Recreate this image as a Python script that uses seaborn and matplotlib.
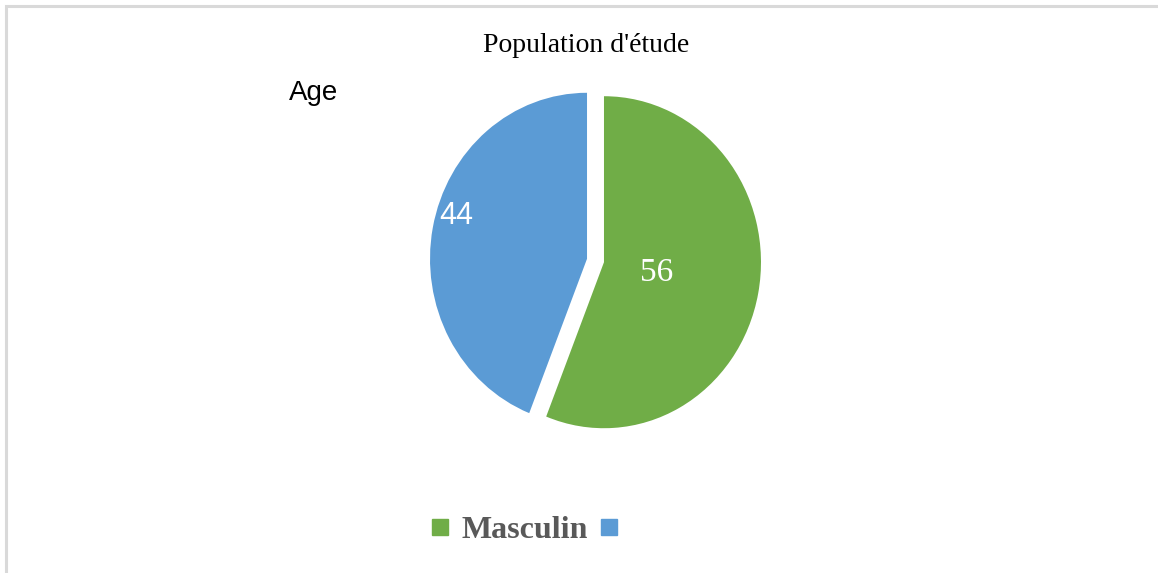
import matplotlib
matplotlib.use("Agg")
import matplotlib.pyplot as plt
import seaborn as sns
from matplotlib.lines import Line2D
from matplotlib.patches import Rectangle

# ---- data ----
categories = ["Masculin", ""]
values = [56, 44]
colors = ["#70AD47", "#5B9BD5"]
title = "Population d'étude"
side_label = "Age"

sns.set_theme(style="white")
plt.rcParams["font.family"] = ["Liberation Serif", "DejaVu Serif"]

W, H = 1158, 573
fig = plt.figure(figsize=(W / 100, H / 100), dpi=100)
fig.patch.set_facecolor("white")

# light gray frame (top and left edges visible)
fig.patches.append(Rectangle((6 / W, -0.05), 1.2, (H - 6) / H + 0.05,
                             transform=fig.transFigure, fill=False,
                             edgecolor="#D9D9D9", linewidth=2.2))

# pie axes placement (pixels)
cx, cy = 595.5, 260.5
rx, ry = 157, 166
lim = 1.25
ax = fig.add_axes([(cx - lim * rx) / W, (H - cy - lim * ry) / H,
                   2 * lim * rx / W, 2 * lim * ry / H])
wedges, texts, autotexts = ax.pie(
    values, colors=colors, startangle=90, counterclock=False,
    explode=[0.055, 0.055], autopct=lambda p: f"{p:.0f}", pctdistance=0.34,
    wedgeprops=dict(linewidth=0),
    textprops=dict(color="white", fontsize=24, family="Liberation Serif"))
ax.set_aspect("auto")
ax.set_xlim(-lim, lim)
ax.set_ylim(-lim, lim)
# blue value label sits near the left edge of its slice
autotexts[1].set_position((-0.89, 0.27))
autotexts[1].set_family("Liberation Sans")
autotexts[1].set_fontsize(22)

fig.text(585.8 / W, 1 - 51.7 / H, title, ha="center", va="baseline",
         fontsize=20, family="Liberation Serif", color="#000000")
fig.text(289 / W, 1 - 100 / H, side_label, ha="left", va="baseline",
         fontsize=20, family="Liberation Sans", color="#000000")

handles = [Line2D([], [], marker="s", ls="", color=c, markersize=11)
           for c in colors]
fig.legend(handles, categories, ncol=2, loc="center",
           bbox_to_anchor=(531.5 / W, 1 - 530 / H), frameon=False,
           prop=dict(family="Liberation Serif", weight="bold", size=23),
           labelcolor="#595959", handlelength=0.5, handletextpad=0.45,
           columnspacing=0.4, borderpad=0.2)

fig.savefig("out.png", dpi=100, facecolor="white")
